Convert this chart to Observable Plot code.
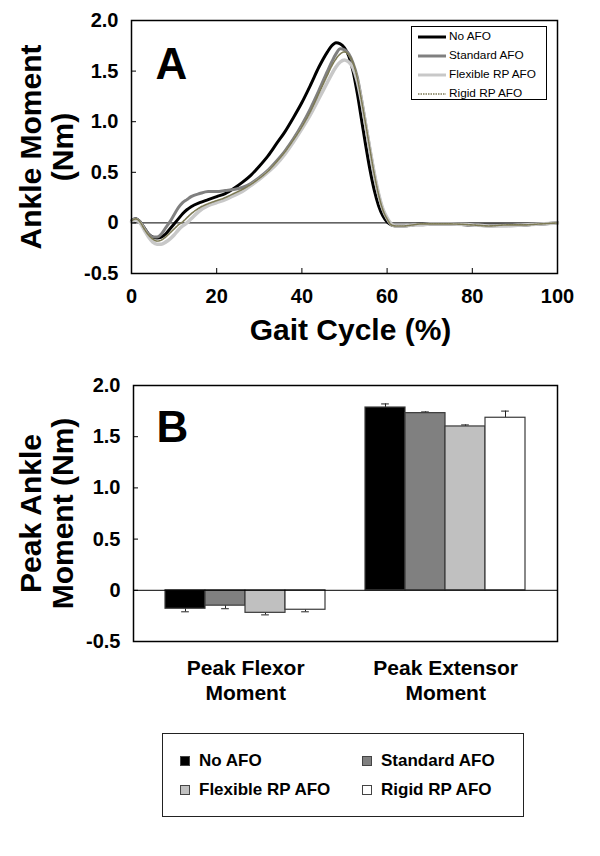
<!DOCTYPE html>
<html>
<head>
<meta charset="utf-8">
<script src="https://cdn.jsdelivr.net/npm/d3@7"></script>
<script src="https://cdn.jsdelivr.net/npm/@observablehq/plot@0.6"></script>
<style>
  body { margin: 0; background: #fff; }
  #root { position: relative; width: 600px; height: 856px; font-family: "Liberation Sans", Arial, sans-serif; background: #fff; }
  #panelA { position: absolute; left: 0; top: 0; }
  #panelB { position: absolute; left: 0; top: 350px; }
  .legA { position: absolute; left: 411px; top: 26px; width: 134px; height: 72px; border: 1.5px solid #000; background: #fff; font-size: 11.8px; color: #000; }
  .legA .row { height: 19px; line-height: 19px; display: flex; align-items: center; }
  .legA svg { margin-left: 6px; margin-right: 3px; }
  .legB { position: absolute; left: 162px; top: 733px; width: 360px; height: 82px; border: 1.5px solid #222; background: #fff; font-size: 17px; font-weight: bold; color: #000; }
  .legB .item { position: absolute; display: flex; align-items: center; height: 20px; }
  .legB .sw { width: 10px; height: 10px; border: 1px solid #444; box-sizing: border-box; margin-right: 9px; }
</style>
</head>
<body>
<div id="root">
  <div id="panelA"></div>
  <div id="panelB"></div>
  <div class="legA" id="legA"></div>
  <div class="legB" id="legB"></div>
</div>
<script>
// ---------- Data ----------
const conditions = ["No AFO", "Standard AFO", "Flexible RP AFO", "Rigid RP AFO"];

// Panel A: ankle moment over the gait cycle (%)
const gaitPct = [0,1,2,3,4,5,6,7,8,9,10,11,12,13,14,16,18,20,22,24,26,28,30,32,34,36,38,40,42,44,46,47,48,49,50,51,52,53,54,55,56,57,58,59,60,61,62,64,66,68,70,75,80,84,88,92,96,100];
const noAFO = [0.02,0.04,0.01,-0.05,-0.11,-0.14,-0.15,-0.14,-0.11,-0.06,-0.01,0.04,0.09,0.13,0.16,0.20,0.23,0.26,0.29,0.34,0.40,0.47,0.56,0.66,0.78,0.90,1.04,1.19,1.36,1.54,1.69,1.75,1.78,1.77,1.73,1.65,1.50,1.28,1.02,0.76,0.52,0.32,0.17,0.07,0.01,-0.02,-0.03,-0.03,-0.02,-0.01,-0.01,-0.01,-0.02,-0.02,-0.02,-0.02,-0.01,0.0];
const standardAFO = [0.02,0.04,0.01,-0.05,-0.11,-0.14,-0.14,-0.11,-0.05,0.01,0.08,0.15,0.20,0.23,0.26,0.29,0.31,0.31,0.32,0.33,0.35,0.39,0.45,0.52,0.61,0.71,0.83,0.97,1.13,1.31,1.50,1.59,1.67,1.72,1.71,1.67,1.58,1.44,1.22,0.97,0.72,0.48,0.28,0.13,0.04,-0.02,-0.03,-0.03,-0.02,-0.01,-0.01,-0.01,-0.02,-0.03,-0.02,-0.02,-0.01,0.0];
const flexibleRPAFO = [0.01,0.03,0.0,-0.07,-0.14,-0.19,-0.21,-0.21,-0.19,-0.16,-0.12,-0.07,-0.03,0.0,0.04,0.12,0.17,0.20,0.23,0.27,0.31,0.37,0.43,0.50,0.58,0.68,0.80,0.93,1.07,1.23,1.39,1.47,1.54,1.59,1.61,1.59,1.53,1.40,1.20,0.96,0.72,0.49,0.29,0.14,0.05,-0.01,-0.03,-0.03,-0.02,-0.02,-0.01,-0.01,-0.02,-0.03,-0.03,-0.02,-0.01,0.0];
const rigidRPAFO = [0.02,0.04,0.01,-0.06,-0.12,-0.16,-0.18,-0.17,-0.14,-0.10,-0.06,-0.02,0.01,0.05,0.09,0.15,0.19,0.22,0.25,0.29,0.33,0.38,0.44,0.51,0.60,0.70,0.82,0.95,1.10,1.28,1.46,1.55,1.62,1.67,1.69,1.66,1.58,1.43,1.21,0.97,0.72,0.48,0.28,0.13,0.04,-0.02,-0.03,-0.03,-0.02,-0.01,-0.01,-0.01,-0.02,-0.03,-0.02,-0.02,-0.01,0.0];

const xTicksA = [0, 20, 40, 60, 80, 100];
const yTicks = [-0.5, 0, 0.5, 1.0, 1.5, 2.0];
const yTickLabels = ["-0.5", "0", "0.5", "1.0", "1.5", "2.0"];

// Panel B: peak moments (mean, SD)
const categories = ["Peak Flexor\nMoment", "Peak Extensor\nMoment"];
const flexorPeak = [-0.18, -0.15, -0.22, -0.19];
const flexorSD = [0.03, 0.03, 0.02, 0.02];
const extensorPeak = [1.785, 1.73, 1.60, 1.685];
const extensorSD = [0.035, 0.012, 0.015, 0.065];

// ---------- Styles ----------
const lineStyles = [
  {stroke: "#000000", strokeWidth: 3},
  {stroke: "#808080", strokeWidth: 3},
  {stroke: "#c8c8c8", strokeWidth: 3.5},
  {stroke: "#7d7a55", strokeWidth: 1.6, strokeDasharray: "1.5,1"}
];
const barFill = ["#000000", "#808080", "#c0c0c0", "#ffffff"];
const FONT = "Liberation Sans, Arial, sans-serif";
const tickFmt = d => yTickLabels[yTicks.indexOf(d)];

// ---------- Panel A ----------
const seriesValues = [noAFO, standardAFO, flexibleRPAFO, rigidRPAFO];
const lineMarks = seriesValues.map((vals, s) =>
  Plot.line(gaitPct.map((x, i) => ({x, y: vals[i]})), {x: "x", y: "y", curve: "monotone-x", ...lineStyles[s]})
);

const plotA = Plot.plot({
  width: 600, height: 350,
  marginTop: 20, marginRight: 43, marginBottom: 77, marginLeft: 131,
  style: {fontFamily: FONT, background: "transparent", color: "#000"},
  x: {domain: [0, 100]},
  y: {domain: [-0.5, 2]},
  marks: [
    Plot.ruleY([0], {stroke: "#000", strokeWidth: 1}),
    ...lineMarks,
    Plot.frame({stroke: "#000", strokeWidth: 1.5}),
    Plot.axisX({ticks: xTicksA, tickSize: -5, tickPadding: 20, fontSize: 20, fontWeight: "bold", label: null}),
    Plot.axisY({ticks: yTicks, tickFormat: tickFmt, tickSize: -5, tickPadding: 18, fontSize: 20, fontWeight: "bold", label: null}),
    Plot.text(["Gait Cycle (%)"], {text: d => d, frameAnchor: "bottom", dx: 6, dy: 66, fontSize: 30, fontWeight: "bold"}),
    Plot.text(["Ankle Moment\n(Nm)"], {text: d => d, frameAnchor: "left", rotate: -90, dx: -85, fontSize: 30, fontWeight: "bold", lineHeight: 1.07, textAnchor: "middle", lineAnchor: "middle"}),
    Plot.text(["A"], {text: d => d, frameAnchor: "top-left", dx: 24, dy: 27, lineAnchor: "top", textAnchor: "start", fontSize: 44, fontWeight: "bold"})
  ]
});
document.getElementById("panelA").appendChild(plotA);

// ---------- Panel B ----------
const catKeys = ["F", "E"];
const xKeys = [...conditions.map(c => "F|" + c), "gap", ...conditions.map(c => "E|" + c)];
const barData = [
  ...conditions.map((c, i) => ({key: "F|" + c, cond: c, value: flexorPeak[i], err: flexorPeak[i] - flexorSD[i]})),
  ...conditions.map((c, i) => ({key: "E|" + c, cond: c, value: extensorPeak[i], err: extensorPeak[i] + extensorSD[i]}))
];
const mB = {top: 35, right: 43, bottom: 89, left: 133};
const innerW = 600 - mB.left - mB.right;
const padOuter = 0.76;
const step = innerW / (xKeys.length + 2 * padOuter);

const plotB = Plot.plot({
  width: 600, height: 380,
  marginTop: mB.top, marginRight: mB.right, marginBottom: mB.bottom, marginLeft: mB.left,
  style: {fontFamily: FONT, background: "transparent", color: "#000"},
  x: {type: "band", domain: xKeys, paddingInner: 0, paddingOuter: padOuter, axis: null},
  y: {domain: [-0.5, 2]},
  color: {domain: conditions, range: barFill},
  marks: [
    Plot.ruleX(barData, {x: "key", y1: "value", y2: "err", stroke: "#222", strokeWidth: 1}),
    Plot.tickY(barData, {x: "key", y: "err", stroke: "#222", strokeWidth: 1, insetLeft: step / 2 - 4, insetRight: step / 2 - 4}),
    Plot.barY(barData, {x: "key", y: "value", fill: "cond", stroke: "#3a3a3a", strokeWidth: 1.2}),
    Plot.ruleY([0], {stroke: "#000", strokeWidth: 1}),
    Plot.frame({stroke: "#000", strokeWidth: 1.5}),
    Plot.axisY({ticks: yTicks, tickFormat: tickFmt, tickSize: -5, tickPadding: 18, fontSize: 20, fontWeight: "bold", label: null}),
    Plot.text(categories, {x: (d, i) => catKeys[i] + "|" + conditions[1], text: d => d, frameAnchor: "bottom", dx: step / 2, dy: 38, fontSize: 21, fontWeight: "bold", lineHeight: 1.2, lineAnchor: "middle"}),
    Plot.text(["Peak Ankle\nMoment (Nm)"], {text: d => d, frameAnchor: "left", rotate: -90, dx: -87, fontSize: 30, fontWeight: "bold", lineHeight: 1.07, textAnchor: "middle", lineAnchor: "middle"}),
    Plot.text(["B"], {text: d => d, frameAnchor: "top-left", dx: 23, dy: 25, lineAnchor: "top", textAnchor: "start", fontSize: 44, fontWeight: "bold"})
  ]
});
document.getElementById("panelB").appendChild(plotB);

// ---------- Legends (HTML) ----------
const legA = document.getElementById("legA");
conditions.forEach((c, i) => {
  const st = lineStyles[i];
  const row = document.createElement("div");
  row.className = "row";
  row.innerHTML = `<svg width="28" height="6"><line x1="0" y1="3" x2="28" y2="3" stroke="${st.stroke}" stroke-width="${Math.min(st.strokeWidth, 3)}" ${st.strokeDasharray ? `stroke-dasharray="${st.strokeDasharray}"` : ""}/></svg><span>${c}</span>`;
  legA.appendChild(row);
});

const legB = document.getElementById("legB");
const legPos = [[17, 17], [199, 17], [17, 46], [199, 46]];
conditions.forEach((c, i) => {
  const it = document.createElement("div");
  it.className = "item";
  it.style.left = legPos[i][0] + "px";
  it.style.top = legPos[i][1] + "px";
  it.innerHTML = `<div class="sw" style="background:${barFill[i]}"></div><span>${c}</span>`;
  legB.appendChild(it);
});
</script>
</body>
</html>
